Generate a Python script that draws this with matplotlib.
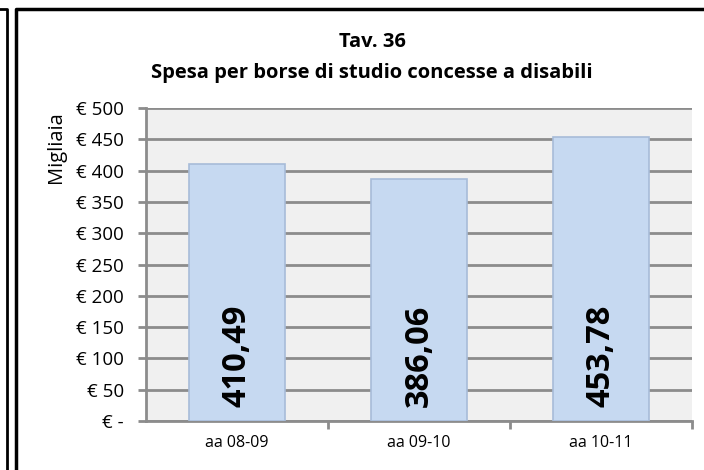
import matplotlib
matplotlib.use("Agg")
import matplotlib.pyplot as plt
from matplotlib.lines import Line2D

categories = ["aa 08-09", "aa 09-10", "aa 10-11"]
values = [410.49, 386.06, 453.78]
value_labels = ["410,49", "386,06", "453,78"]
y_ticks = [0, 50, 100, 150, 200, 250, 300, 350, 400, 450, 500]
y_tick_labels = ["€ -", "€ 50", "€ 100", "€ 150", "€ 200", "€ 250", "€ 300", "€ 350", "€ 400", "€ 450", "€ 500"]

plt.rcParams['font.family'] = ['Open Sans', 'DejaVu Sans']

W, H = 704, 470
fig = plt.figure(figsize=(W / 100, H / 100), dpi=100)
fig.patch.set_facecolor("white")

ax = fig.add_axes([146 / W, (H - 421) / H, (692 - 146) / W, (421 - 108) / H])
ax.set_facecolor("#f0f0f0")

x = list(range(len(categories)))
bars = ax.bar(x, values, width=0.53, color="#c6d9f1", edgecolor="#a7bcd8", linewidth=1.2, zorder=3)

for xi, lab in zip(x, value_labels):
    ax.text(xi, 22, lab, rotation=90, ha="center", va="bottom", fontsize=23.5,
            fontweight="bold", color="black", zorder=4)

ax.set_xlim(-0.5, len(categories) - 0.5)
ax.set_ylim(0, 500)
ax.set_yticks(y_ticks)
ax.set_yticklabels(y_tick_labels, fontsize=13.5)
ax.yaxis.grid(True, color="#8c8c8c", linewidth=2, zorder=1)
ax.set_axisbelow(True)

ax.set_xticks(x)
ax.set_xticklabels(categories, fontsize=11.5)
ax.tick_params(axis="x", which="major", length=0, pad=10)
ax.set_xticks([0.5, 1.5, 2.5], minor=True)
ax.tick_params(axis="x", which="minor", length=6, width=2, color="#8c8c8c", direction="out")
ax.tick_params(axis="y", length=6, width=2, color="#8c8c8c", direction="out", pad=10)

for s in ["top", "right"]:
    ax.spines[s].set_visible(False)
for s in ["left", "bottom"]:
    ax.spines[s].set_color("#8c8c8c")
    ax.spines[s].set_linewidth(2)

ax.set_ylabel("Migliaia", fontsize=14.5)
ax.yaxis.set_label_coords(-0.147, 0.875)

fig.text(372 / W, 1 - 42 / H, "Tav. 36", ha="center", va="center", fontsize=14.5, fontweight="bold")
fig.text(372 / W, 1 - 73 / H, "Spesa per borse di studio concesse a disabili", ha="center", va="center",
         fontsize=14.5, fontweight="bold")

# outer frames
fig.add_artist(Line2D([16 / W, 16 / W, 1.0], [0, 1 - 9 / H, 1 - 9 / H], color="black", linewidth=2.5,
                      transform=fig.transFigure))
fig.add_artist(Line2D([0, 7 / W, 7 / W], [1 - 9 / H, 1 - 9 / H, 0], color="black", linewidth=2,
                      transform=fig.transFigure))

fig.savefig("out.png", dpi=100)
